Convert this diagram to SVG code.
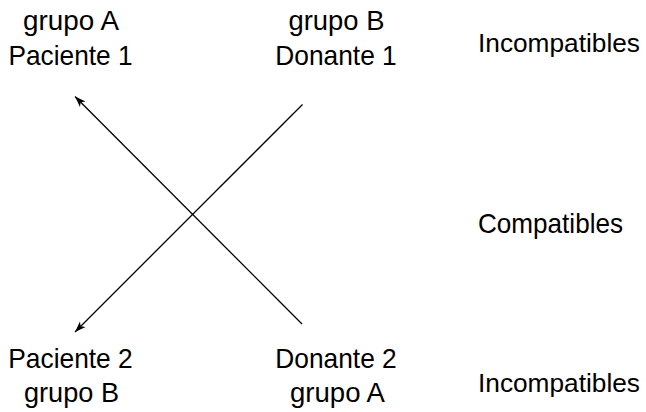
<svg xmlns="http://www.w3.org/2000/svg" width="646" height="412" viewBox="0 0 646 412">
  <style>
    text { font-family: "Liberation Sans", Arial, sans-serif; font-size: 28px; fill: #000; }
    .mid { text-anchor: middle; }
    .side { font-size: 26.5px; }
    .edge { stroke: #000; stroke-width: 1.3; fill: none; marker-end: url(#tip); }
  </style>
  <defs>
    <marker id="tip" markerUnits="userSpaceOnUse" viewBox="-12 -6 14 12" refX="0" refY="0" markerWidth="14" markerHeight="12" orient="auto">
      <path d="M0,0 L-11,-4 L-8,0 L-11,4 Z" fill="#000"/>
    </marker>
  </defs>

  <g id="paciente1">
    <text class="mid" x="71" y="29.5" textLength="96" lengthAdjust="spacingAndGlyphs">grupo A</text>
    <text class="mid" x="70.5" y="64.5" textLength="124" lengthAdjust="spacingAndGlyphs">Paciente 1</text>
  </g>
  <g id="donante1">
    <text class="mid" x="336.5" y="29.5" textLength="96" lengthAdjust="spacingAndGlyphs">grupo B</text>
    <text class="mid" x="336" y="64.5" textLength="121.5" lengthAdjust="spacingAndGlyphs">Donante 1</text>
  </g>
  <g id="paciente2">
    <text class="mid" x="70.5" y="367.5" textLength="124.5" lengthAdjust="spacingAndGlyphs">Paciente 2</text>
    <text class="mid" x="71.5" y="401.5" textLength="95" lengthAdjust="spacingAndGlyphs">grupo B</text>
  </g>
  <g id="donante2">
    <text class="mid" x="336" y="367.5" textLength="121.5" lengthAdjust="spacingAndGlyphs">Donante 2</text>
    <text class="mid" x="337.5" y="401.5" textLength="95" lengthAdjust="spacingAndGlyphs">grupo A</text>
  </g>
  <g id="etiquetas">
    <text class="side" x="478" y="52" textLength="162" lengthAdjust="spacingAndGlyphs">Incompatibles</text>
    <text x="478" y="233" textLength="145" lengthAdjust="spacingAndGlyphs">Compatibles</text>
    <text class="side" x="478" y="392" textLength="162" lengthAdjust="spacingAndGlyphs">Incompatibles</text>
  </g>

  <g id="conectores">
    <line class="edge" x1="302" y1="324" x2="75" y2="96.5"/>
    <line class="edge" x1="302.5" y1="104.5" x2="75" y2="332"/>
  </g>
</svg>
